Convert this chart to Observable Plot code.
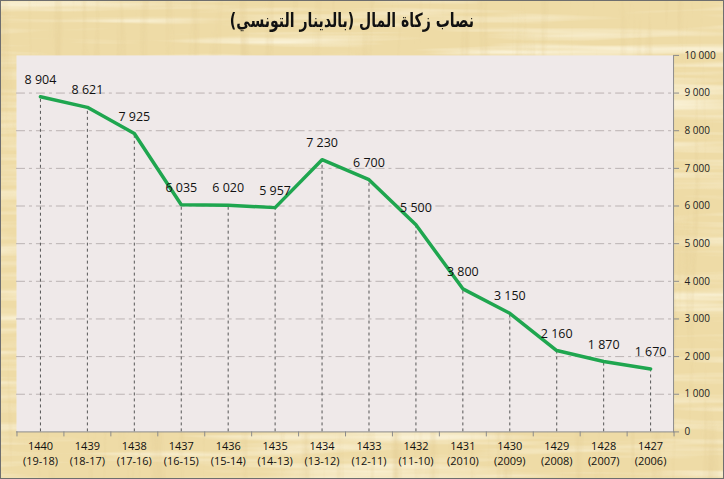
<!DOCTYPE html>
<html>
<head>
<meta charset="utf-8">
<script src="https://cdn.jsdelivr.net/npm/d3@7"></script>
<script src="https://cdn.jsdelivr.net/npm/@observablehq/plot@0.6"></script>
<style>
  html, body { margin: 0; padding: 0; background: #ffffff; }
  #wrap { position: relative; width: 724px; height: 479px; overflow: hidden; box-sizing: border-box; border: 1px solid #6e6e6e; }
  #bg { position: absolute; left: 0; top: 0; }
  #chart { position: absolute; left: -1px; top: -1px; }
  #title { position: absolute; left: 0; top: 8px; width: 702px; text-align: center; direction: rtl;
           font-family: "DejaVu Sans", sans-serif; font-weight: bold; font-size: 19.5px; color: #111;
           transform: scaleX(0.72); transform-origin: 351px 0; }
</style>
</head>
<body>
<div id="wrap">
  <svg id="bg" width="724" height="479">
    <defs>
      <filter id="fibH" x="0" y="0" width="100%" height="100%">
        <feTurbulence type="fractalNoise" baseFrequency="0.004 0.09" numOctaves="3" seed="4"/>
        <feColorMatrix type="matrix" values="0 0 0 0 1  0 0 0 0 0.97  0 0 0 0 0.84  1.8 0 0 0 -0.8"/>
      </filter>
      <filter id="fibV" x="0" y="0" width="100%" height="100%">
        <feTurbulence type="fractalNoise" baseFrequency="0.08 0.005" numOctaves="3" seed="9"/>
        <feColorMatrix type="matrix" values="0 0 0 0 0.74  0 0 0 0 0.58  0 0 0 0 0.28  -1.6 0 0 0 0.74"/>
      </filter>
    </defs>
    <rect width="724" height="479" fill="#eedba6"/>
    <rect width="724" height="479" filter="url(#fibH)"/>
    <rect width="724" height="479" filter="url(#fibV)" opacity="0.7"/>
  </svg>
  <div id="chart"></div>
  <div id="title">نصاب زكاة المال (بالدينار التونسي)</div>
</div>
<script>
const years = ["1440","1439","1438","1437","1436","1435","1434","1433","1432","1431","1430","1429","1428","1427"];
const periods = ["(19-18)","(18-17)","(17-16)","(16-15)","(15-14)","(14-13)","(13-12)","(12-11)","(11-10)","(2010)","(2009)","(2008)","(2007)","(2006)"];
const values = [8904, 8621, 7925, 6035, 6020, 5957, 7230, 6700, 5500, 3800, 3150, 2160, 1870, 1670];
const yTicks = [0, 1000, 2000, 3000, 4000, 5000, 6000, 7000, 8000, 9000, 10000];
const gridTicks = [1000, 2000, 3000, 4000, 5000, 6000, 7000, 8000, 9000];

const data = years.map((y, i) => ({year: y, period: periods[i], value: values[i]}));
const fmt = v => d3.format(",")(v).replace(/,/g, " ");

const W = 724, H = 479, ML = 16, MR = 50, MT = 55, MB = 47;
const step = (W - ML - MR) / years.length;

const chart = Plot.plot({
  width: W, height: H,
  marginLeft: ML, marginRight: MR, marginTop: MT, marginBottom: MB,
  style: {background: "transparent", fontFamily: "'Open Sans', sans-serif", color: "#111"},
  x: {type: "point", domain: years, padding: 0.5, axis: null},
  y: {domain: [0, 10000], axis: null},
  marks: [
    Plot.frame({fill: "#efe9e9", stroke: null}),
    Plot.ruleY(gridTicks, {stroke: "#bbb3b3", strokeDasharray: "9,4,3,4"}),
    Plot.ruleX(data, {x: "year", y1: () => 0, y2: "value", stroke: "#555", strokeDasharray: "3,3"}),
    Plot.frame({anchor: "bottom", stroke: "#8c8c8c"}),
    Plot.frame({anchor: "right", stroke: "#8c8c8c"}),
    Plot.ruleX(data, {x: "year", y1: () => 0, y2: () => 0, insetBottom: -5, dx: -step / 2, stroke: "#8c8c8c"}),
    Plot.ruleX(data.slice(-1), {x: "year", y1: () => 0, y2: () => 0, insetBottom: -5, dx: step / 2, stroke: "#8c8c8c"}),
    Plot.axisY(yTicks, {anchor: "right", label: null, tickSize: 5, tickPadding: 6, tickFormat: fmt, fontSize: 10, stroke: "#8c8c8c", fill: "#222"}),
    Plot.line(data, {x: "year", y: "value", stroke: "#1fa64f", strokeWidth: 3.5, strokeLinejoin: "round"}),
    Plot.text(data, {x: "year", y: "value", text: d => fmt(d.value), dy: -17, fontSize: 12.5, fill: "#111"}),
    Plot.text(data, {x: "year", y: () => 0, text: d => d.year + "\n" + d.period, lineAnchor: "top", dy: 8, lineHeight: 1.35, fontSize: 11, fill: "#111"})
  ]
});
document.getElementById("chart").appendChild(chart);
</script>
</body>
</html>
